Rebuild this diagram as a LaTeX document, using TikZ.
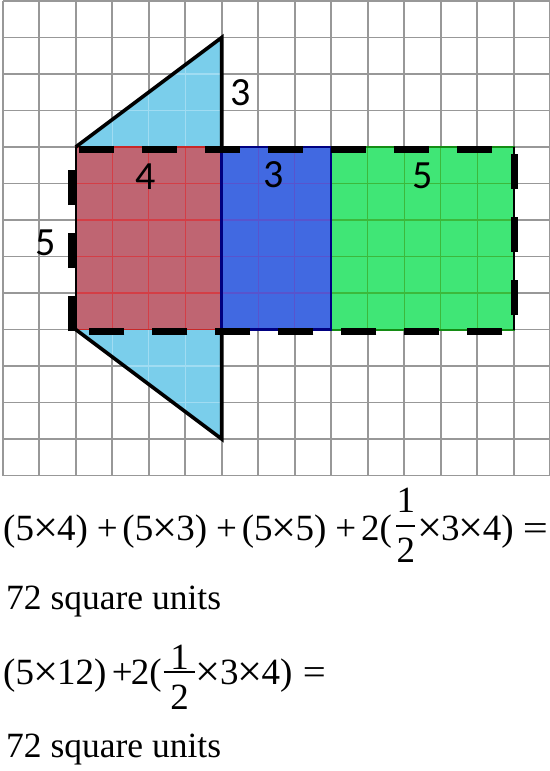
\documentclass[tikz,border=0pt]{standalone}
\usepackage{fontspec}
\usepackage{graphicx}
\setmainfont{Liberation Serif}
\newfontfamily\labfont{Carlito}
\definecolor{gridgray}{RGB}{152,152,152}
\definecolor{trifillc}{RGB}{122,206,235}
\definecolor{trigridc}{RGB}{160,220,242}
\definecolor{redfillc}{RGB}{191,101,114}
\definecolor{redgridc}{RGB}{212,62,70}
\definecolor{redborderc}{RGB}{200,40,40}
\definecolor{bluefillc}{RGB}{65,105,225}
\definecolor{bluegridc}{RGB}{88,84,205}
\definecolor{blueborderc}{RGB}{0,0,128}
\definecolor{greenfillc}{RGB}{64,230,118}
\definecolor{greengridc}{RGB}{60,185,60}
\definecolor{greenborderc}{RGB}{20,140,20}
\newcommand\bigtimes{\raisebox{-0.07em}{\scalebox{1.2}{\makebox[0.47em][c]{×}}}}
\newcommand\Xa{\hspace{0.03em}\bigtimes\hspace{0.03em}}
\newcommand\Pa{\hspace{0.24em}+\hspace{0.13em}}
\newcommand\Xb{\hspace{0.03em}\bigtimes\hspace{0.03em}}
\newcommand\Pb{\hspace{0.15em}+\hspace{-0.05em}}
% fraction: width, numerator raise, bar raise, denominator raise
\newcommand\halffrac[4]{%
  \makebox[#1][c]{\raisebox{#2}[0pt][0pt]{1}}\hspace{-#1}%
  \makebox[#1][c]{\raisebox{#4}[0pt][0pt]{2}}\hspace{-#1}%
  \rule[#3]{#1}{0.055em}}
\begin{document}
\begin{tikzpicture}[x=1bp,y=-1bp,
  gridline/.style={draw=gridgray,line width=1.8bp},
  trifill/.style={fill=trifillc},
  trigrid/.style={draw=trigridc,line width=1.4bp},
  redfill/.style={fill=redfillc},
  redgrid/.style={draw=redgridc,line width=1.3bp},
  redborder/.style={draw=redborderc,line width=1.5bp},
  bluefill/.style={fill=bluefillc},
  bluegrid/.style={draw=bluegridc,line width=1.3bp},
  blueborder/.style={draw=blueborderc,line width=2.5bp},
  greenfill/.style={fill=greenfillc},
  greengrid/.style={draw=greengridc,line width=1.3bp},
  greenborder/.style={draw=greenborderc,line width=2bp},
  thinblack/.style={draw=black,line width=2bp},
  triline/.style={draw=black,line width=3.6bp,line join=miter},
  dashbox/.style={draw=black,line width=7bp,dash pattern=on 35bp off 28bp,line cap=butt,line join=miter},
  lbl/.style={font=\labfont\fontsize{40bp}{44bp}\selectfont,anchor=base,inner sep=0pt},
  eq/.style={font=\fontsize{37bp}{40bp}\selectfont,anchor=base west,inner sep=0pt},
  txt/.style={font=\fontsize{35.5bp}{40bp}\selectfont,anchor=base west,inner sep=0pt}]
\useasboundingbox (0,0) rectangle (550,771);
\fill[white] (0,0) rectangle (550,771);
\begin{scope}[shift={(2.7,1)},x=36.5bp,y=-36.5bp]
  \foreach \i in {0,...,15} \draw[gridline] (\i,0) -- (\i,13);
  \foreach \j in {0,...,13} \draw[gridline] (0,\j) -- (15,\j);
  % triangles
  \fill[trifill] (2,4) -- (6,1) -- (6,4) -- cycle;
  \fill[trifill] (2,9) -- (6,12) -- (6,9) -- cycle;
  \begin{scope}
    \clip (2,4) -- (6,1) -- (6,4) -- cycle;
    \foreach \i in {3,4,5} \draw[trigrid] (\i,0) -- (\i,4);
    \foreach \j in {2,3} \draw[trigrid] (2,\j) -- (6,\j);
  \end{scope}
  \begin{scope}
    \clip (2,9) -- (6,12) -- (6,9) -- cycle;
    \foreach \i in {3,4,5} \draw[trigrid] (\i,9) -- (\i,13);
    \foreach \j in {10,11} \draw[trigrid] (2,\j) -- (6,\j);
  \end{scope}
  % rectangles
  \fill[redfill] (2,4) rectangle (6,9);
  \foreach \i in {3,4,5} \draw[redgrid] (\i,4) -- (\i,9);
  \foreach \j in {5,...,8} \draw[redgrid] (2,\j) -- (6,\j);
  \draw[redborder] (2,4) rectangle (6,9);
  \fill[bluefill] (6,4) rectangle (9,9);
  \foreach \i in {7,8} \draw[bluegrid] (\i,4) -- (\i,9);
  \foreach \j in {5,...,8} \draw[bluegrid] (6,\j) -- (9,\j);
  \fill[greenfill] (9,4) rectangle (14,9);
  \foreach \i in {10,...,13} \draw[greengrid] (\i,4) -- (\i,9);
  \foreach \j in {5,...,8} \draw[greengrid] (9,\j) -- (14,\j);
  \draw[greenborder] (9,4) rectangle (14,9);
  \draw[blueborder] (6,4) rectangle (9,9);
  \draw[thinblack] (2,4) -- (2,9);
  \draw[thinblack] (14,4) -- (14,9);
  % triangle outlines
  \draw[triline] (2,4) -- (6,1) -- (6,4);
  \draw[triline] (2,9) -- (6,12) -- (6,9);
\end{scope}
% dashed outline of the 12 x 5 rectangle
\draw[dashbox] (71.5,331) -- (71.5,149) -- (514.5,149) -- (514.5,331) -- cycle;
% labels
\node[lbl] (lthree) at (241,105.5) {3};
\node[lbl] (lfour) at (146,189.5) {4};
\node[lbl] (lthreeb) at (273.5,187) {3};
\node[lbl] (lfiveg) at (423,188) {5};
\node[lbl] (lfivel) at (45.5,255) {5};
% equations
\node[eq] (eqone) at (3,540) {(5\Xa4)\Pa(5\Xa3)\Pa(5\Xa5)\Pa2(\hspace{0.12em}\halffrac{0.51em}{0.73em}{0.35em}{-0.6em}\hspace{0.08em}\Xa3\Xa4)\hspace{0.25em}\scalebox{1.2}[1]{=}};
\node[txt] (ansone) at (6,609) {72 square units};
\node[eq] (eqtwo) at (3,684) {(5\Xb12)\Pb2(\hspace{0.05em}\halffrac{0.86em}{0.4em}{0.3em}{-0.68em}\hspace{0.04em}\Xb3\Xb4)\hspace{0.28em}\scalebox{1.1}[1]{=}};
\node[txt] (anstwo) at (6,757) {72 square units};
\end{tikzpicture}
\end{document}
